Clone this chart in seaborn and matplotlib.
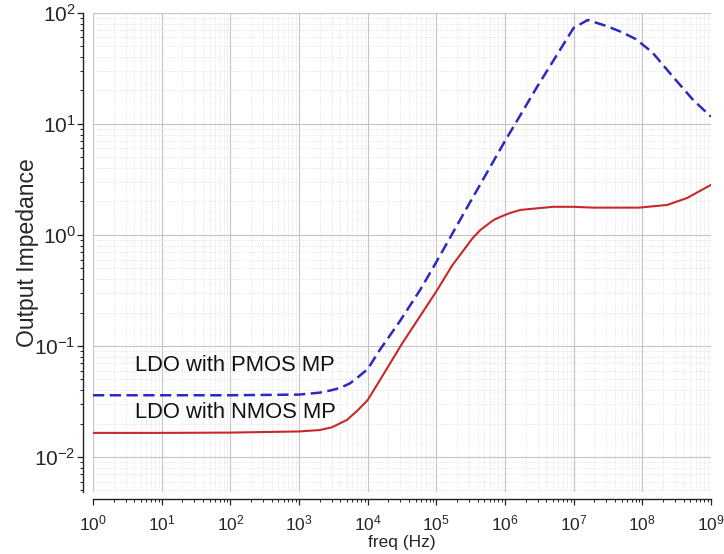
import matplotlib
matplotlib.use("Agg")
import matplotlib.pyplot as plt
import matplotlib.ticker as mticker
import numpy as np
import pandas as pd
import seaborn as sns

# ---- data ----
pmos_freq = [1e0, 1e1, 1e2, 1e3, 2e3, 3e3, 4e3, 5.5e3, 7e3, 1e4, 1.5e4, 3e4, 6e4, 1e5,
             3e5, 1e6, 3e6, 1e7, 1.6e7, 3e7, 5e7, 8e7, 1.4e8, 2.8e8, 5.5e8, 1e9]
pmos_z = [0.036, 0.036, 0.036, 0.0365, 0.038, 0.040, 0.042, 0.046, 0.0515, 0.062, 0.092, 0.17, 0.33, 0.57,
          1.9, 7.0, 22.0, 73.0, 86.0, 76.0, 67.0, 58.0, 44.0, 26.5, 16.4, 11.6]

nmos_freq = [1e0, 1e1, 1e2, 1e3, 2e3, 3e3, 5e3, 7e3, 1e4, 1.5e4, 3.2e4, 1e5, 1.7e5,
             3.4e5, 4.4e5, 6.8e5, 8.5e5, 1.2e6, 1.7e6, 5e6, 1e7, 1.9e7, 9e7, 2.3e8, 4.5e8, 1e9]
nmos_z = [0.0165, 0.0165, 0.0166, 0.017, 0.0175, 0.0185, 0.0216, 0.026, 0.0326, 0.049, 0.106, 0.31, 0.53,
          0.94, 1.11, 1.36, 1.45, 1.58, 1.68, 1.79, 1.79, 1.76, 1.76, 1.86, 2.15, 2.82]

pmos_label = "LDO with PMOS MP"
nmos_label = "LDO with NMOS MP"

df_p = pd.DataFrame({"freq": pmos_freq, "Z": pmos_z})
df_n = pd.DataFrame({"freq": nmos_freq, "Z": nmos_z})

# ---- style ----
sns.set_style("white")
plt.rcParams["font.family"] = ["Liberation Sans", "DejaVu Sans"]

fig = plt.figure(figsize=(7.24, 5.54), dpi=100)
ax = fig.add_axes([0.1285, 0.112, 0.8535, 0.865])

sns.lineplot(data=df_p, x="freq", y="Z", ax=ax, color="#2a2ac0",
             linestyle=(0, (4.5, 2.2)), linewidth=1.8)
sns.lineplot(data=df_n, x="freq", y="Z", ax=ax, color="#c8282a",
             linewidth=1.5)

ax.set_xscale("log")
ax.set_yscale("log")
ax.set_xlim(1e0, 1e9)
ax.set_ylim(4.85e-3, 1e2)

ax.xaxis.set_major_locator(mticker.LogLocator(base=10, numticks=20))
ax.xaxis.set_minor_locator(mticker.LogLocator(base=10, subs=np.arange(2, 10), numticks=20))
ax.yaxis.set_major_locator(mticker.LogLocator(base=10, numticks=20))
ax.yaxis.set_minor_locator(mticker.LogLocator(base=10, subs=np.arange(2, 10), numticks=20))

ax.grid(which="major", color="#c4c4c4", linewidth=0.8, linestyle="-")
ax.grid(which="minor", color="#dadada", linewidth=0.6, linestyle=":")

sns.despine(ax=ax, offset={"left": 7, "bottom": 5})
for s in ["left", "bottom"]:
    ax.spines[s].set_color("#222222")
    ax.spines[s].set_linewidth(1.0)

ax.tick_params(axis="both", which="both", bottom=True, left=True, direction="out")
ax.tick_params(axis="both", which="major", length=4.5, width=0.9, color="#222222")
ax.tick_params(axis="both", which="minor", length=2.5, width=0.7, color="#222222")
ax.tick_params(axis="y", which="major", labelsize=15, pad=1)
ax.tick_params(axis="x", which="major", labelsize=12.5, pad=6)

ax.set_xlabel("freq (Hz)", fontsize=12.5, labelpad=1)
ax.set_ylabel("Output Impedance", fontsize=16.5, labelpad=-3)

ax.text(4.1, 0.067, pmos_label, fontsize=15.8, va="center", ha="left", color="#111111")
ax.text(4.1, 0.0254, nmos_label, fontsize=15.8, va="center", ha="left", color="#111111")

fig.savefig("out.png", dpi=100)
